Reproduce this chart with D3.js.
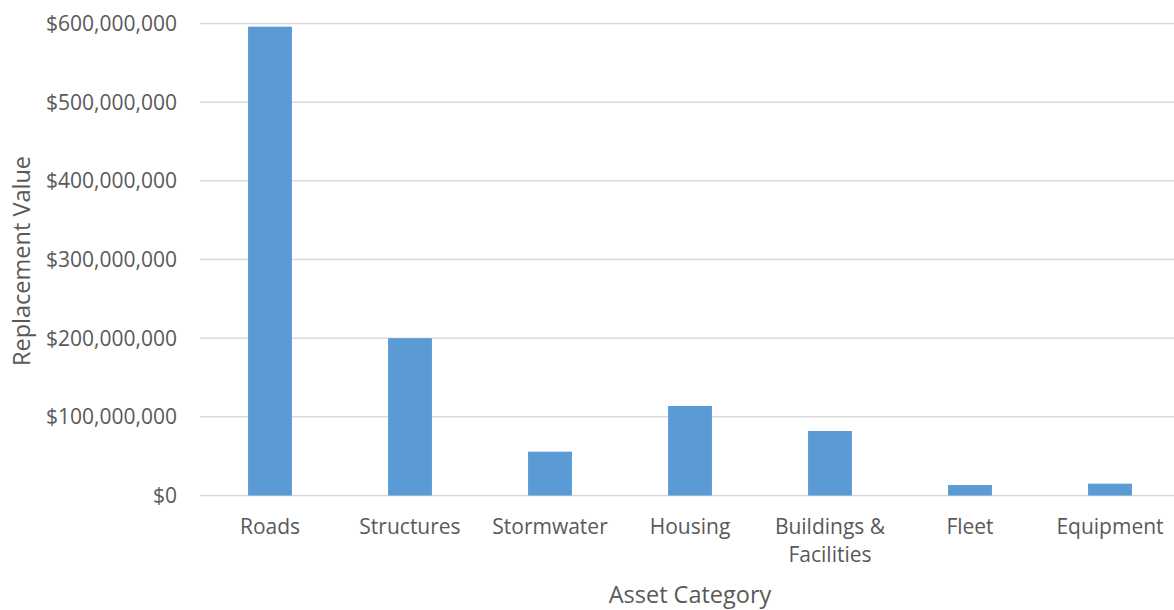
<!DOCTYPE html>
<html>
<head>
<meta charset="utf-8">
<script src="https://cdn.jsdelivr.net/npm/d3@7"></script>
<style>
  html, body { margin: 0; padding: 0; background: #fff; }
  svg { display: block; }
  text { font-family: "Open Sans", Lato, sans-serif; fill: #595959; }
</style>
</head>
<body>
<svg id="chart" width="1174" height="610"></svg>
<script>
// Replacement value by asset category
const categories = ["Roads", "Structures", "Stormwater", "Housing", "Buildings & Facilities", "Fleet", "Equipment"];
const categoryLines = [["Roads"], ["Structures"], ["Stormwater"], ["Housing"], ["Buildings &", "Facilities"], ["Fleet"], ["Equipment"]];
const replacementValues = [596000000, 200000000, 55700000, 113800000, 82000000, 13300000, 15000000];
const yTicks = [0, 100000000, 200000000, 300000000, 400000000, 500000000, 600000000];

const svg = d3.select("#chart");
const margin = { left: 200, right: -6, top: 23.5, bottom: 114.5 };
const W = 1174, H = 610;

const x = d3.scaleBand()
  .domain(categories)
  .range([margin.left, W - margin.right])
  .paddingInner(0)
  .paddingOuter(0);

const y = d3.scaleLinear()
  .domain([0, 600000000])
  .range([H - margin.bottom, margin.top]);

const fmt = v => "$" + d3.format(",")(v);

// horizontal gridlines
svg.append("g")
  .selectAll("line")
  .data(yTicks)
  .join("line")
  .attr("x1", margin.left)
  .attr("x2", W - margin.right)
  .attr("y1", d => y(d))
  .attr("y2", d => y(d))
  .attr("stroke", "#d9d9d9")
  .attr("stroke-width", 1.5);

// y tick labels
svg.append("g")
  .selectAll("text")
  .data(yTicks)
  .join("text")
  .attr("x", margin.left - 23)
  .attr("y", d => y(d))
  .attr("dy", "0.36em")
  .attr("text-anchor", "end")
  .style("font-size", "21px")
  .text(fmt);

// bars
const barW = x.bandwidth() / 3.19;
svg.append("g")
  .selectAll("rect")
  .data(categories)
  .join("rect")
  .attr("x", d => x(d) + (x.bandwidth() - barW) / 2)
  .attr("width", barW)
  .attr("y", (d, i) => y(replacementValues[i]))
  .attr("height", (d, i) => y(0) - y(replacementValues[i]))
  .attr("fill", "#5b9bd5");

// category labels
const labels = svg.append("g")
  .selectAll("text")
  .data(categories)
  .join("text")
  .attr("text-anchor", "middle")
  .attr("x", d => x(d) + x.bandwidth() / 2)
  .attr("y", 534)
  .style("font-size", "21px");
labels.each(function(d, i) {
  d3.select(this).selectAll("tspan")
    .data(categoryLines[i])
    .join("tspan")
    .attr("x", x(d) + x.bandwidth() / 2)
    .attr("dy", (t, j) => j === 0 ? 0 : 28)
    .text(t => t);
});

// axis titles
svg.append("text")
  .attr("x", 690)
  .attr("y", 603)
  .attr("text-anchor", "middle")
  .style("font-size", "23.5px")
  .text("Asset Category");

svg.append("text")
  .attr("transform", "translate(30,261) rotate(-90)")
  .attr("text-anchor", "middle")
  .style("font-size", "23.5px")
  .text("Replacement Value");
</script>
</body>
</html>
